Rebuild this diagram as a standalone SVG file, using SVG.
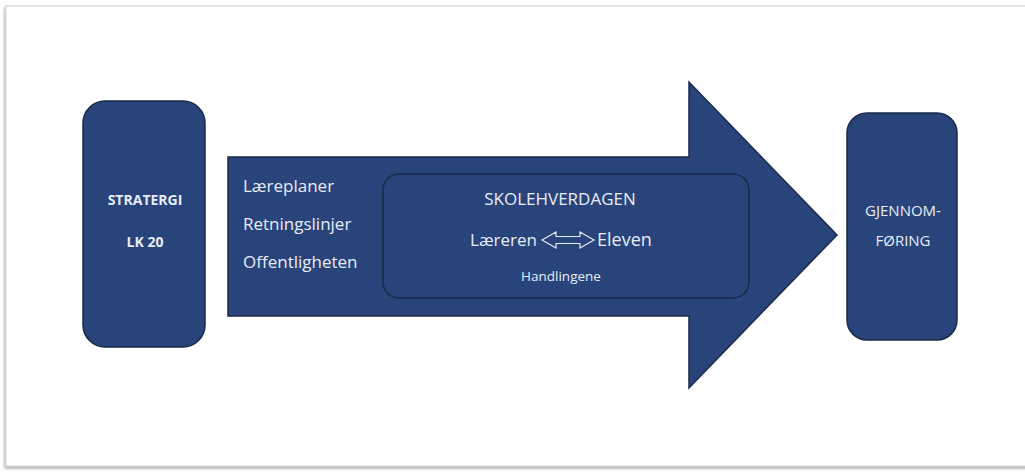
<svg xmlns="http://www.w3.org/2000/svg" width="1025" height="472" viewBox="0 0 1025 472">
<defs>
<style>
.shape{fill:#29447a;stroke:#1a2a48;stroke-width:1.5}
.t{font-family:"Open Sans","Liberation Sans",sans-serif;fill:#e8ecf5}
.b{font-weight:bold}
</style>
<filter id="sh" x="-5%" y="-5%" width="110%" height="110%">
<feDropShadow dx="-1" dy="2" stdDeviation="1.5" flood-color="#000" flood-opacity="0.35"/>
</filter>
</defs>
<rect x="0" y="0" width="1025" height="472" fill="#fff"/>
<rect x="6" y="6" width="1030" height="460" fill="#fff" stroke="#d0d0d0" stroke-width="1" filter="url(#sh)"/>
<g id="connectors">
<path id="main-arrow" class="shape" d="M228,157 L689,157 L689,82 L837,235 L689,388 L689,316 L228,316 Z"/>
</g>
<g id="strategi">
<rect class="shape" x="83" y="101" width="122" height="246" rx="22"/>
<text class="t b" x="145" y="205" font-size="14" text-anchor="middle">STRATERGI</text>
<text class="t b" x="145" y="247" font-size="14" text-anchor="middle">LK 20</text>
</g>
<g id="list">
<text class="t" x="243" y="192" font-size="17">Læreplaner</text>
<text class="t" x="243" y="230" font-size="17">Retningslinjer</text>
<text class="t" x="243" y="268" font-size="17">Offentligheten</text>
</g>
<g id="skolehverdagen">
<rect class="shape" x="383" y="174" width="366" height="124" rx="16" stroke-width="2"/>
<text class="t" x="560" y="205" font-size="17" text-anchor="middle">SKOLEHVERDAGEN</text>
<text class="t" x="537" y="246" font-size="17" text-anchor="end">Læreren</text>
<path d="M542,240 L556,232 L556,236.5 L580,236.5 L580,232 L594,240 L580,248 L580,243.5 L556,243.5 L556,248 Z" fill="none" stroke="#e8ecf5" stroke-width="1.2"/>
<text class="t" x="597" y="246" font-size="18">Eleven</text>
<text class="t" x="561" y="281" font-size="13.5" text-anchor="middle">Handlingene</text>
</g>
<g id="gjennomforing">
<rect class="shape" x="847" y="113" width="110" height="227" rx="20"/>
<text class="t" x="903" y="216" font-size="15" text-anchor="middle">GJENNOM-</text>
<text class="t" x="903" y="246" font-size="15" text-anchor="middle">FØRING</text>
</g>
</svg>
